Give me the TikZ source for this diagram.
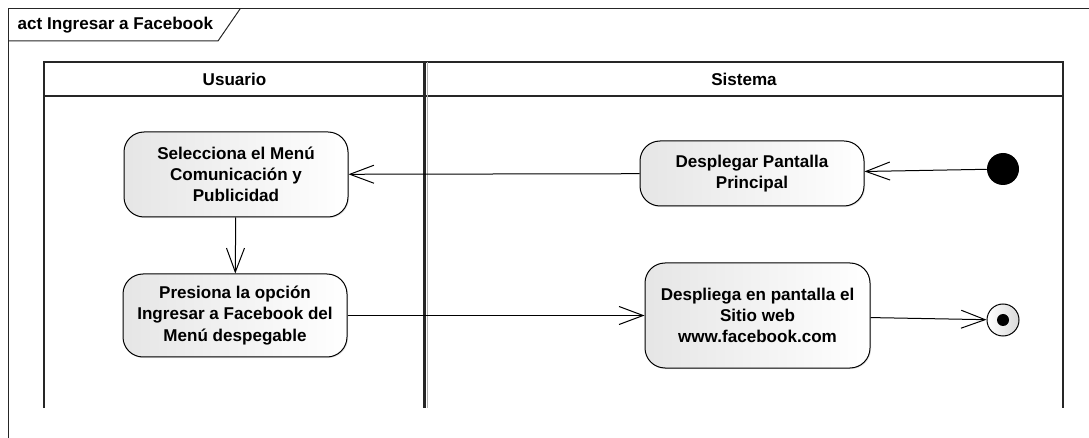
\documentclass[tikz,border=0pt]{standalone}
\usepackage{fontspec}
\setmainfont{Liberation Sans}
\usetikzlibrary{arrows.meta, shadows}
\newcommand{\umlfont}{\fontsize{12.8}{15.8}\selectfont\bfseries}
\tikzset{
  >={Straight Barb[length=18pt,width=13.5pt]},
  % Marco y carriles
  frame/.style={line width=0.75pt,black!85},
  lane/.style={line width=1.2pt,black!85},
  lane label/.style={font=\umlfont},
  % Actividades
  action/.style={draw=black,line width=0.75pt,rounded corners=15pt,align=center,
    left color=gray!20,right color=white,font=\umlfont,inner sep=2pt,
    drop shadow={opacity=0.2,shadow xshift=0.8pt,shadow yshift=-0.8pt}},
  start/.style={circle,fill=black,minimum size=24pt,inner sep=0pt},
  finish/.style={circle,draw=black,line width=0.75pt,minimum size=24pt,inner sep=0pt,
    left color=white,right color=gray!30,
    path picture={\fill[black] (path picture bounding box.center) circle (4.5pt);}},
  % Flujos
  flow/.style={->,line width=0.75pt}
}
\begin{document}
\begin{tikzpicture}[x=0.75pt,y=-0.75pt]
  \useasboundingbox (0,0) rectangle (1089,438);
  % marco
  \draw[frame] (8,438) -- (8,9) -- (1089,9);
  \draw[frame] (8,41) -- (218,41) -- (240,9);
  \node[anchor=west,font=\umlfont] (title) at (13,25) {act Ingresar a Facebook};
  % carriles
  \draw[lane] (44,408) -- (44,62) -- (1063,62) -- (1063,408);
  \draw[lane] (44,96) -- (1063,96);
  \draw[black!85,line width=2.2pt] (424.2,62) -- (424.2,408);
  \draw[gray!60,line width=0.75pt] (427.3,62) -- (427.3,408);
  \node[lane label] (usuario) at (234.5,79) {Usuario};
  \node[lane label] (sistema) at (744,79) {Sistema};
  % nodos
  \node[start] (init) at (1003,169) {};
  \node[action,minimum width=168pt,minimum height=48.75pt] (desp) at (752,173.5)
    {Desplegar Pantalla\\Principal};
  \node[action,minimum width=168pt,minimum height=63.75pt] (sel) at (236,174.5)
    {Selecciona el Menú\\Comunicación y\\Publicidad};
  \node[action,minimum width=168pt,minimum height=62.25pt] (pres) at (235,315.5)
    {Presiona la opción\\Ingresar a Facebook del\\Menú despegable};
  \node[action,minimum width=168.75pt,minimum height=78.75pt] (web) at (757.5,315.5)
    {Despliega en pantalla el\\Sitio web\\www.facebook.com};
  \node[finish] (fin) at (1003,320) {};
  % flujos
  \draw[flow] (init) -- (desp);
  \draw[flow] (desp) -- (sel);
  \draw[flow] (sel) -- (pres);
  \draw[flow] (pres) -- (web);
  \draw[flow] (web) -- (fin);
\end{tikzpicture}
\end{document}
